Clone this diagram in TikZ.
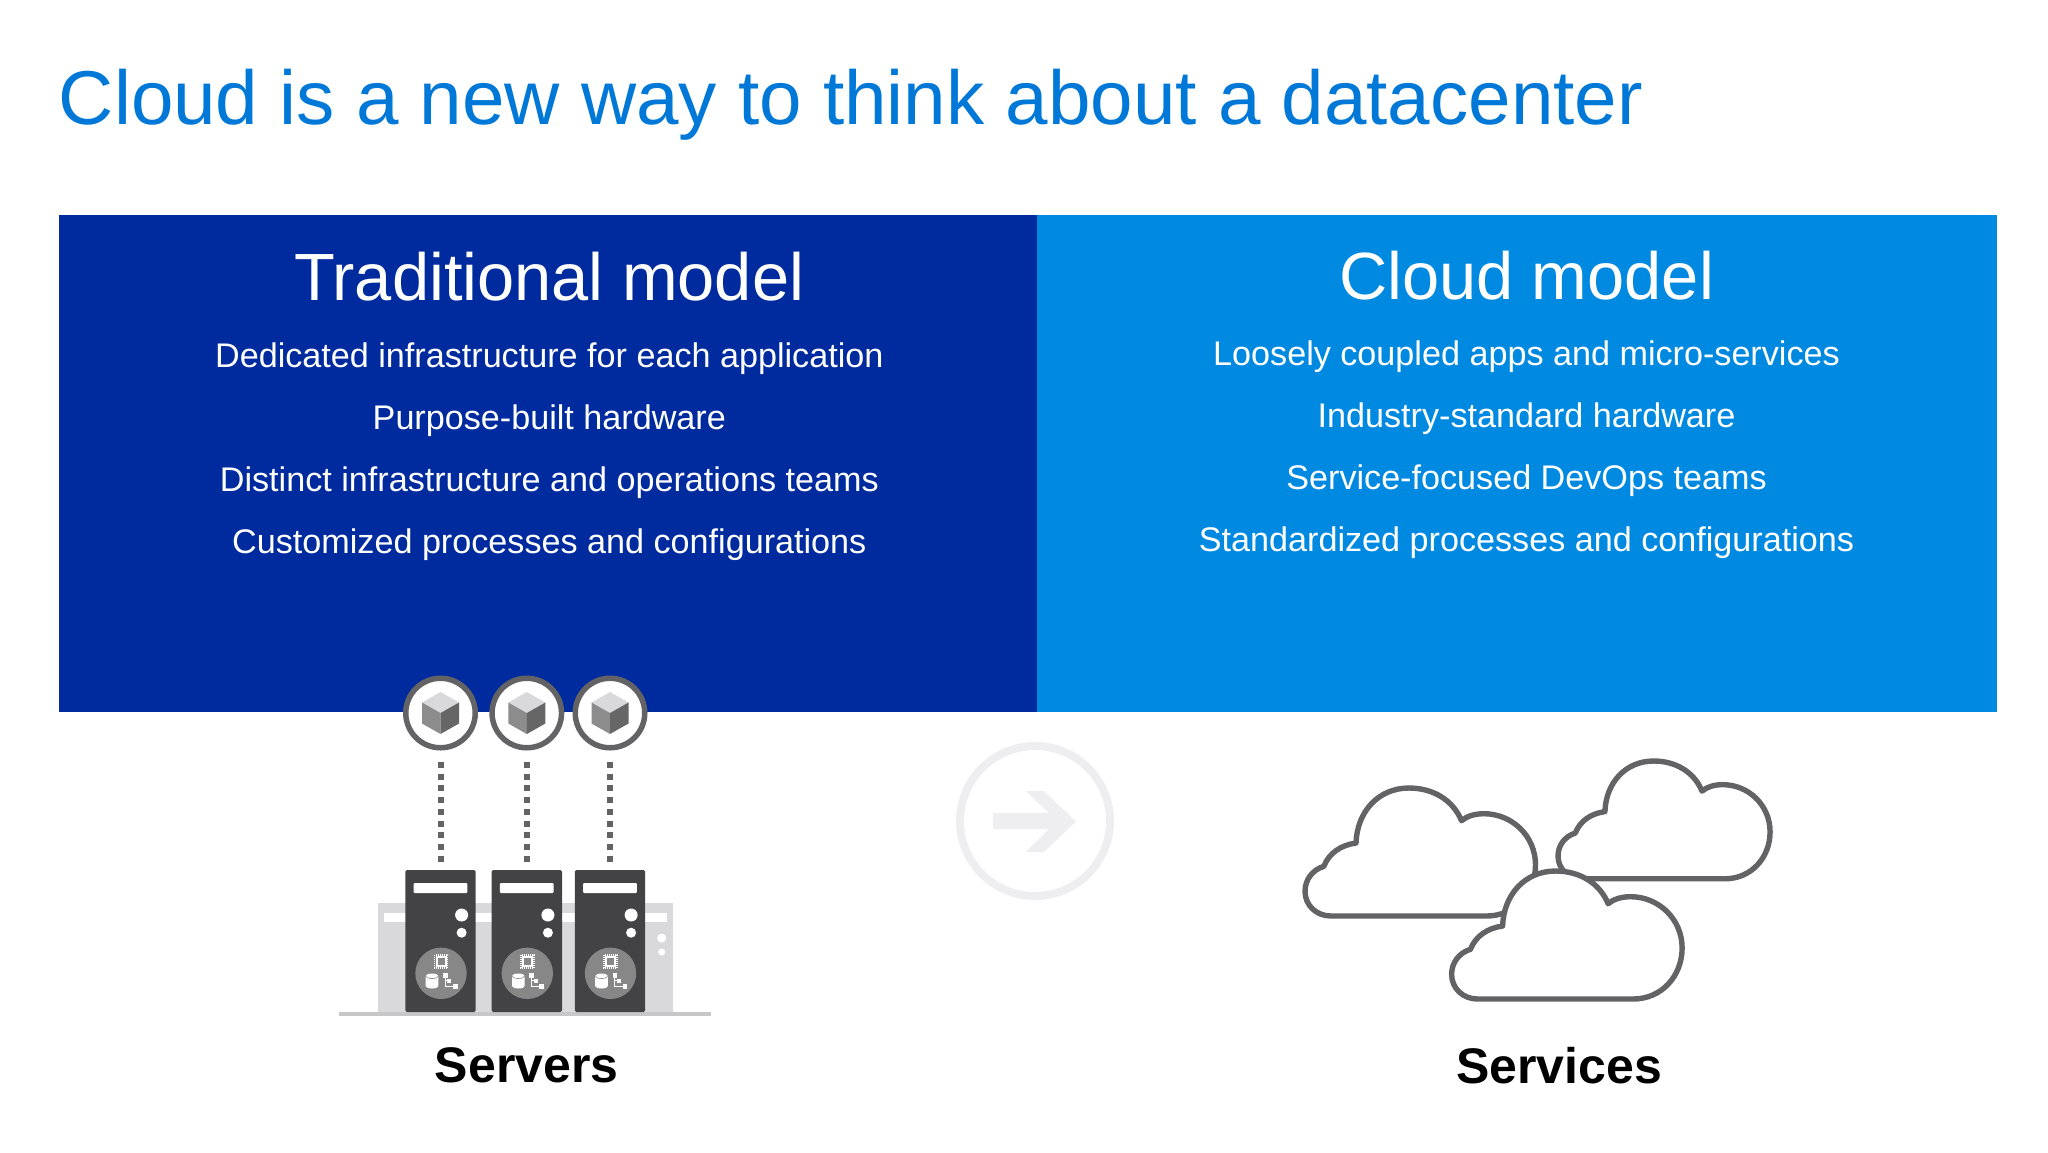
\documentclass[tikz,border=0pt]{standalone}
\usepackage{fontspec}
\setmainfont{Liberation Sans}
\usetikzlibrary{positioning}

\definecolor{titleblue}{HTML}{0078D7}
\definecolor{tradblue}{HTML}{002B9E}
\definecolor{cloudblue}{HTML}{0089E1}
\definecolor{iron}{HTML}{434345}
\definecolor{steel}{HTML}{636365}
\definecolor{ghost}{HTML}{D9D9DC}
\definecolor{faint}{HTML}{EEEEF0}

\tikzset{
	panel/.style={anchor=north west,inner sep=0pt,outer sep=0pt,minimum height=248.5pt},
	heading/.style={anchor=base,inner sep=0pt,text=white,font=\fontsize{33.4}{38}\selectfont},
	item/.style={inner sep=0pt,outer sep=0pt,text=white,text height=13pt,text depth=4pt,below=14pt of #1,font=\fontsize{17.08}{20}\selectfont},
	caption/.style={anchor=base,inner sep=0pt,font=\bfseries\fontsize{25}{30}\selectfont},
	vm/.style={circle,draw=steel,fill=white,line width=2.75pt,minimum size=34.75pt,inner sep=0pt},
	server/.style={fill=iron,rounded corners=.8pt,minimum width=35.2pt,minimum height=71pt,inner sep=0pt,outer sep=0pt},
	link/.style={draw=steel,line width=3pt,dash pattern=on 3pt off 2.85pt,shorten <=5.75pt,shorten >=4.15pt},
	cube/.pic={
		\fill [ghost] (0,-21) -- (18.5,-10.5) -- (0,0) -- (-18.5,-10.5) -- cycle;
		\fill [black!45] (-18.5,-10.5) -- (0,0) -- (0,21) -- (-18.5,10.5) -- cycle;
		\fill [black!60] (18.5,-10.5) -- (0,0) -- (0,21) -- (18.5,10.5) -- cycle;
	},
	tower/.pic={
		\fill [white,rounded corners=.5pt] (8.3,13) rectangle (62,23);
		\fill [white] (56.3,45) circle [radius=3.25pt];
		\fill [white] (56.3,62.7) circle [radius=2.5pt];
		\fill [black!47] (35.7,103.3) circle [radius=12.85pt];
		\draw [white,line width=.9pt,dash pattern=on .5pt off .5pt] (29.2,85.2) rectangle (42.2,98.2);
		\draw [white,line width=1pt,fill=black!47] (31.2,87.2) rectangle (40.2,96.2);
		\fill [white] (20.4,106) -- (20.4,116) arc [start angle=180,end angle=360,x radius=3.15pt,y radius=1.25pt] -- (33,106) arc [start angle=0,end angle=180,x radius=3.15pt,y radius=1.25pt] -- cycle;
		\draw [black!47,line width=.3pt] (20.4,106) arc [start angle=180,end angle=360,x radius=3.15pt,y radius=1.25pt];
		\draw [white,line width=.6pt] (40,105.7) -- (40,116.7) -- (50,116.7) (40,110.7) -- (44,110.7);
		\fill [white] (37.7,103.4) rectangle (42.3,108);
		\fill [white] (42,108.7) rectangle (46,112.7);
		\fill [white] (47.7,114.4) rectangle (52.3,119);
	},
	cloud/.pic={
		\draw [steel,fill=white,line width=2.7pt,line join=round] (26,128) -- (181.5,128)
			.. controls (210,128) and (230.5,105) .. (230.5,77)
			.. controls (230.5,48) and (207,25.7) .. (179,25.7)
			.. controls (170,25.7) and (162,28) .. (156.5,32.7)
			.. controls (148,12) and (128,0) .. (104,0)
			.. controls (73,0) and (52,24) .. (51,55)
			.. controls (36,57) and (24,65) .. (18.8,78.3)
			.. controls (7,82) and (0,92) .. (0,103.3)
			.. controls (0,117) and (11,128) .. (26,128) -- cycle;
	}
}

\begin{document}
\begin{tikzpicture}[x=.5pt,y=-.5pt]
	\useasboundingbox (0,0) rectangle (2048,1152);

	\node [anchor=base west,inner sep=0pt,text=titleblue,font=\fontsize{38.2}{44}\selectfont] (title) at (58.5,124.3) {Cloud is a new way to think about a datacenter};

	\node [panel,fill=tradblue,minimum width=489pt] (trad) at (59,215) {};
	\node [panel,fill=cloudblue,minimum width=480pt,right=0pt of trad] (cloudm) {};

	\node [heading] (tradhead) at (549.3,300.7) {Traditional model};
	\node [item=tradhead,yshift=-5.75pt] (trad1) {Dedicated infrastructure for each application};
	\node [item=trad1] (trad2) {Purpose-built hardware};
	\node [item=trad2] (trad3) {Distinct infrastructure and operations teams};
	\node [item=trad3] (trad4) {Customized processes and configurations};

	\node [heading] (cloudhead) at (1526.5,299) {Cloud model};
	\node [item=cloudhead,yshift=-5.75pt] (cloud1) {Loosely coupled apps and micro-services};
	\node [item=cloud1] (cloud2) {Industry-standard hardware};
	\node [item=cloud2] (cloud3) {Service-focused DevOps teams};
	\node [item=cloud3] (cloud4) {Standardized processes and configurations};

	\node [fill=ghost,inner sep=0pt,minimum width=147.5pt,minimum height=54.5pt] (rack) at (525.5,957.5) {};
	\fill [white] (384,913) rectangle (667,922);
	\fill [white] (661.7,938) circle [radius=2.25pt];
	\fill [white] (661.7,952) circle [radius=1.75pt];
	\node [fill=black!22,inner sep=0pt,minimum width=186pt,minimum height=2pt] (ground) at (525,1014) {};

	\node [server] (srv1) at (440.5,941) {};
	\node [server] (srv2) at (526.8,941) {};
	\node [server] (srv3) at (610,941) {};
	\pic at (srv1.north west) {tower};
	\pic at (srv2.north west) {tower};
	\pic at (srv3.north west) {tower};

	\node [vm] (vm1) at (440.5,713) {};
	\node [vm] (vm2) at (526.8,713) {};
	\node [vm] (vm3) at (610,713) {};
	\pic at (vm1) {cube};
	\pic at (vm2) {cube};
	\pic at (vm3) {cube};

	\draw [link] (vm1.south) -- (srv1.north);
	\draw [link] (vm2.south) -- (srv2.north);
	\draw [link] (vm3.south) -- (srv3.north);

	\node [circle,draw=faint,line width=4pt,minimum size=75pt,inner sep=0pt] (next) at (1035,821) {};
	\fill [faint] (993,813) -- (1049,813) -- (1025.5,791) -- (1044,791) -- (1076,821.5) -- (1044,852) -- (1025.5,852) -- (1049,829) -- (993,829) -- cycle;

	\pic at (1305,788) {cloud};
	\pic [scale=.92] at (1558,761) {cloud};
	\pic at (1451.6,871) {cloud};

	\node [caption] (servers) at (526.7,1082.7) {Servers};
	\node [caption] (services) at (1559,1083.7) {Services};
\end{tikzpicture}
\end{document}
